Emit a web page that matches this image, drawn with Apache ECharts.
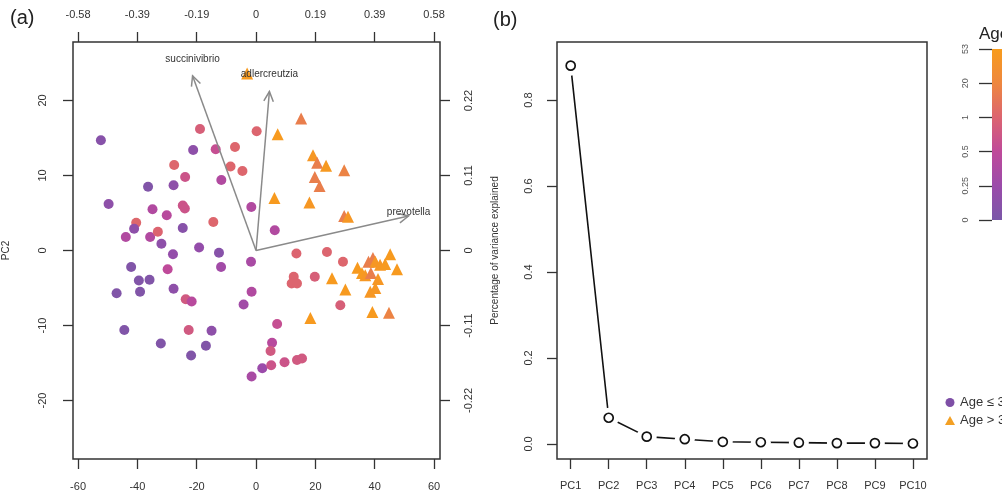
<!DOCTYPE html>
<html>
<head>
<meta charset="utf-8">
<script src="https://cdn.jsdelivr.net/npm/echarts@6/dist/echarts.min.js"></script>
<style>
  html, body { margin: 0; padding: 0; background: #fff; }
  #main { width: 1002px; height: 495px; }
</style>
</head>
<body>
<div id="main"></div>
<script>
// (a) PCA scores, circles = Age <= 3, triangles = Age > 3
var circleX = [-52.3, -18.9, 0.2, -21.2, -13.6, -7.1, -27.6, -8.6, -4.6, -23.9, -36.4, -27.8, -11.7, -49.7, -34.9, -30.1, -24.7, -24.0, -1.6, -14.4,
  -40.4, -41.1, -43.9, -35.7, -33.1, -24.7, -31.9, -28.0, -19.2, -12.5, -1.7, -42.1, -29.8, -11.8, -39.5, -35.9, -47.0, -39.1, -27.8, -1.5,
  -23.7, -21.7, -4.2, -44.4, -22.7, -15.0, -32.1, -16.9, -21.9, -1.5, 6.3, 13.6, 23.9, 29.3, 12.7, 12.0, 13.8, 19.8, 28.4, 7.1,
  5.4, 4.9, 2.1, 5.1, 9.6, 13.8, 15.5];
var circleY = [14.7, 16.2, 15.9, 13.4, 13.5, 13.8, 11.4, 11.2, 10.6, 9.8, 8.5, 8.7, 9.4, 6.2, 5.5, 4.7, 6.0, 5.6, 5.8, 3.8,
  3.7, 2.9, 1.8, 1.8, 2.5, 3.0, 0.9, -0.5, 0.4, -0.3, -1.5, -2.2, -2.5, -2.2, -4.0, -3.9, -5.7, -5.5, -5.1, -5.5,
  -6.5, -6.8, -7.2, -10.6, -10.6, -10.7, -12.4, -12.7, -14.0, -16.8, 2.7, -0.4, -0.2, -1.5, -3.5, -4.4, -4.4, -3.5, -7.3, -9.8,
  -12.3, -13.4, -15.7, -15.3, -14.9, -14.6, -14.4];
var circleAge = [0.1, 0.9, 1.5, 0.15, 0.6, 2, 2, 2, 2, 0.7, 0.05, 0.15, 0.4, 0.15, 0.4, 0.45, 0.7, 0.7, 0.4, 2,
  2.5, 0.15, 0.4, 0.4, 1, 0.1, 0.15, 0.2, 0.2, 0.1, 0.35, 0.05, 0.5, 0.3, 0.05, 0.05, 0.05, 0.05, 0.15, 0.4,
  0.8, 0.45, 0.3, 0.05, 0.8, 0.15, 0.05, 0.05, 0.05, 0.35, 0.4, 1, 1.5, 2, 1.5, 1.5, 1.5, 0.9, 0.9, 0.6,
  0.45, 0.8, 0.25, 0.7, 0.7, 0.8, 0.8];

var triX = [-3.0, 15.2, 7.3, 19.2, 20.6, 23.6, 29.7, 19.8, 21.4, 6.2, 18.0, 29.7, 31.0, 45.2, 37.9, 39.4, 40.2, 34.2, 41.8, 43.5,
  47.5, 35.7, 36.8, 38.7, 41.1, 38.5, 40.2, 25.6, 30.1, 18.3, 39.2, 44.8];
var triY = [23.6, 17.6, 15.5, 12.7, 11.7, 11.3, 10.7, 9.8, 8.6, 7.0, 6.4, 4.6, 4.5, -0.5, -1.5, -1.0, -1.5, -2.3, -1.9, -1.8,
  -2.5, -3.0, -3.3, -3.0, -3.8, -5.5, -5.0, -3.7, -5.2, -9.0, -8.2, -8.3];
var triAge = [50, 15, 50, 45, 15, 48, 18, 15, 15, 50, 45, 15, 45, 50, 15, 15, 45, 50, 45, 50,
  50, 50, 45, 15, 45, 45, 45, 50, 50, 50, 50, 18];

// loadings (arrow tips)
var loadingNames = ['succinivibrio', 'adlercreutzia', 'prevotella'];
var loadingX = [-21.4, 4.5, 51.4];
var loadingY = [23.3, 21.2, 4.6];

var bottomTicks = [-60, -40, -20, 0, 20, 40, 60];
var topTickLabels = ['-0.58', '-0.39', '-0.19', '0', '0.19', '0.39', '0.58'];
var leftTicks = [-20, -10, 0, 10, 20];
var rightTickLabels = ['-0.22', '-0.11', '0', '0.11', '0.22'];

// (b) scree plot
var pcNames = ['PC1', 'PC2', 'PC3', 'PC4', 'PC5', 'PC6', 'PC7', 'PC8', 'PC9', 'PC10'];
var pcVariance = [0.880, 0.061, 0.017, 0.011, 0.005, 0.004, 0.003, 0.002, 0.002, 0.001];
var screeTicks = [0, 0.2, 0.4, 0.6, 0.8];

// colour bar
var ageBreaks = [0, 0.25, 0.5, 1, 20, 53];
var gradStops = ['#7A57A8', '#9B4BAA', '#BF4A9A', '#DC6470', '#EE873F', '#F89C1C'];

function hexToRgb(h) {
  return [parseInt(h.substr(1, 2), 16), parseInt(h.substr(3, 2), 16), parseInt(h.substr(5, 2), 16)];
}
function ageColor(age) {
  var t = 0;
  for (var i = 0; i < ageBreaks.length - 1; i++) {
    if (age <= ageBreaks[i + 1]) {
      t = i + (age - ageBreaks[i]) / (ageBreaks[i + 1] - ageBreaks[i]);
      break;
    }
    t = ageBreaks.length - 1;
  }
  var k = Math.min(Math.floor(t), gradStops.length - 2);
  var f = t - k;
  var a = hexToRgb(gradStops[k]), b = hexToRgb(gradStops[k + 1]);
  var c = a.map(function (v, j) { return Math.round(v + (b[j] - v) * f); });
  return 'rgb(' + c.join(',') + ')';
}

var circleData = circleX.map(function (x, i) { return [x, circleY[i], circleAge[i]]; });
var triData = triX.map(function (x, i) { return [x, triY[i], triAge[i]]; });
var loadingData = loadingNames.map(function (n, i) { return [loadingX[i], loadingY[i], n]; });
var screeData = pcVariance.map(function (v, i) { return [i + 1, v]; });

var tickFont = { fontFamily: 'Liberation Sans, Arial, sans-serif', fontSize: 11, color: '#333' };
var tickStyle = { show: true, length: 10, lineStyle: { color: '#333', width: 1.3 } };
var noLine = { show: false, onZero: false };

var myChart = echarts.init(document.getElementById('main'));

var option = {
  animation: false,
  backgroundColor: '#fff',
  title: [
    { text: '(a)', left: 5, top: 3, textStyle: { fontSize: 20, fontWeight: 'normal', color: '#222', fontFamily: 'Liberation Sans, Arial' } },
    { text: '(b)', left: 488, top: 5, textStyle: { fontSize: 20, fontWeight: 'normal', color: '#222', fontFamily: 'Liberation Sans, Arial' } },
    { text: 'Age', left: 974, top: 21, textStyle: { fontSize: 17, fontWeight: 'normal', color: '#222', fontFamily: 'Liberation Sans, Arial' } }
  ],
  legend: {
    orient: 'vertical',
    left: 945,
    top: 396,
    padding: 0,
    itemWidth: 10,
    itemHeight: 9,
    itemGap: 5,
    textStyle: { fontSize: 13, color: '#333', fontFamily: 'Liberation Sans, Arial', padding: [0, 0, 0, 0] },
    data: [
      { name: 'Age ≤ 3', icon: 'circle', itemStyle: { color: '#7E4FA6' } },
      { name: 'Age > 3', icon: 'triangle', itemStyle: { color: '#F3A024' } }
    ]
  },
  grid: [
    { left: 72, top: 42, width: 368, height: 417, show: true, borderColor: '#333', borderWidth: 1.5, backgroundColor: 'transparent' },
    { left: 557, top: 42, width: 370, height: 417, show: true, borderColor: '#333', borderWidth: 1.5, backgroundColor: 'transparent' },
    { left: 992, top: 49, width: 14, height: 171 }
  ],
  xAxis: [
    {
      gridIndex: 0, type: 'value', position: 'bottom', min: -61.7, max: 62,
      axisLine: noLine, splitLine: { show: false },
      axisTick: Object.assign({ customValues: bottomTicks }, tickStyle),
      axisLabel: Object.assign({ customValues: bottomTicks, margin: 22 }, tickFont)
    },
    {
      gridIndex: 0, type: 'value', position: 'top', min: -61.7, max: 62,
      axisLine: noLine, splitLine: { show: false },
      axisTick: Object.assign({ customValues: bottomTicks }, tickStyle),
      axisLabel: Object.assign({
        customValues: bottomTicks, margin: 22,
        formatter: function (v) { return topTickLabels[bottomTicks.indexOf(v)]; }
      }, tickFont)
    },
    {
      gridIndex: 1, type: 'value', min: 0.64, max: 10.37,
      axisLine: noLine, splitLine: { show: false },
      axisTick: Object.assign({ customValues: [1, 2, 3, 4, 5, 6, 7, 8, 9, 10] }, tickStyle),
      axisLabel: Object.assign({
        customValues: [1, 2, 3, 4, 5, 6, 7, 8, 9, 10], margin: 21,
        formatter: function (v) { return pcNames[v - 1]; }
      }, tickFont)
    },
    { gridIndex: 2, type: 'category', data: ['bar'], show: false }
  ],
  yAxis: [
    {
      gridIndex: 0, type: 'value', position: 'left', min: -27.8, max: 27.8,
      name: 'PC2', nameLocation: 'middle', nameGap: 62, nameRotate: 90,
      nameTextStyle: { fontSize: 10, color: '#333', fontFamily: 'Liberation Sans, Arial' },
      axisLine: noLine, splitLine: { show: false },
      axisTick: Object.assign({ customValues: leftTicks }, tickStyle),
      axisLabel: Object.assign({ customValues: leftTicks, rotate: 90, margin: 25 }, tickFont)
    },
    {
      gridIndex: 0, type: 'value', position: 'right', min: -27.8, max: 27.8,
      axisLine: noLine, splitLine: { show: false },
      axisTick: Object.assign({ customValues: leftTicks }, tickStyle),
      axisLabel: Object.assign({
        customValues: leftTicks, rotate: 90, margin: 23,
        formatter: function (v) { return rightTickLabels[leftTicks.indexOf(v)]; }
      }, tickFont)
    },
    {
      gridIndex: 1, type: 'value', min: -0.035, max: 0.935,
      name: 'Percentage of variance explained', nameLocation: 'middle', nameGap: 57, nameRotate: 90,
      nameTextStyle: { fontSize: 10, color: '#333', fontFamily: 'Liberation Sans, Arial' },
      axisLine: noLine, splitLine: { show: false },
      axisTick: Object.assign({ customValues: screeTicks }, tickStyle),
      axisLabel: Object.assign({
        customValues: screeTicks, rotate: 90, margin: 23,
        formatter: function (v) { return v.toFixed(1); }
      }, tickFont)
    },
    {
      gridIndex: 2, type: 'value', min: 0, max: ageBreaks.length - 1,
      axisLine: noLine, splitLine: { show: false },
      axisTick: { show: true, length: 13, customValues: [0, 1, 2, 3, 4, 5], lineStyle: { color: '#333', width: 1.3 } },
      axisLabel: {
        customValues: [0, 1, 2, 3, 4, 5], rotate: 90, margin: 22,
        fontSize: 9, color: '#555', fontFamily: 'Liberation Sans, Arial',
        formatter: function (v) { return String(ageBreaks[v]); }
      }
    }
  ],
  series: [
    {
      name: 'Age ≤ 3', type: 'scatter', xAxisIndex: 0, yAxisIndex: 0,
      symbol: 'circle', symbolSize: 10, data: circleData, z: 3,
      itemStyle: { opacity: 1, color: function (p) { return ageColor(p.value[2]); } }
    },
    {
      name: 'Age > 3', type: 'scatter', xAxisIndex: 0, yAxisIndex: 0,
      symbol: 'triangle', symbolSize: 12, data: triData, z: 3,
      itemStyle: { opacity: 1, color: function (p) { return ageColor(p.value[2]); } }
    },
    {
      type: 'custom', xAxisIndex: 0, yAxisIndex: 0, data: loadingData, z: 5,
      renderItem: function (params, api) {
        var o = api.coord([0, 0]);
        var t = api.coord([api.value(0), api.value(1)]);
        var ang = Math.atan2(t[1] - o[1], t[0] - o[0]);
        var hl = 11, ha = Math.PI / 7;
        var h1 = [t[0] - hl * Math.cos(ang - ha), t[1] - hl * Math.sin(ang - ha)];
        var h2 = [t[0] - hl * Math.cos(ang + ha), t[1] - hl * Math.sin(ang + ha)];
        var name = loadingNames[params.dataIndex];
        var vertical = Math.abs(t[1] - o[1]) > Math.abs(t[0] - o[0]);
        var ls = { stroke: '#8a8a8a', lineWidth: 1.5, fill: null };
        return {
          type: 'group',
          children: [
            { type: 'line', shape: { x1: o[0], y1: o[1], x2: t[0], y2: t[1] }, style: ls },
            { type: 'polyline', shape: { points: [h1, t, h2] }, style: ls },
            {
              type: 'text',
              style: {
                text: name, x: t[0], y: vertical ? t[1] - 17 : t[1] - 4,
                align: 'center', verticalAlign: 'middle',
                fill: '#333', fontSize: 10, fontFamily: 'Liberation Sans, Arial'
              }
            }
          ]
        };
      }
    },
    {
      type: 'line', xAxisIndex: 2, yAxisIndex: 2, data: screeData, showSymbol: false,
      lineStyle: { color: '#111', width: 1.6 }, z: 2, silent: true
    },
    {
      type: 'scatter', xAxisIndex: 2, yAxisIndex: 2, data: screeData, symbolSize: 20,
      itemStyle: { color: '#fff', opacity: 1 }, z: 3, silent: true
    },
    {
      type: 'scatter', xAxisIndex: 2, yAxisIndex: 2, data: screeData, symbolSize: 9,
      itemStyle: { color: '#fff', opacity: 1, borderColor: '#111', borderWidth: 1.7 }, z: 4, silent: true
    },
    {
      type: 'bar', xAxisIndex: 3, yAxisIndex: 3, data: [ageBreaks.length - 1], barWidth: '100%', silent: true,
      itemStyle: {
        color: new echarts.graphic.LinearGradient(0, 1, 0, 0, gradStops.map(function (c, i) {
          return { offset: i / (gradStops.length - 1), color: c };
        }))
      }
    }
  ]
};

myChart.setOption(option);
</script>
</body>
</html>
